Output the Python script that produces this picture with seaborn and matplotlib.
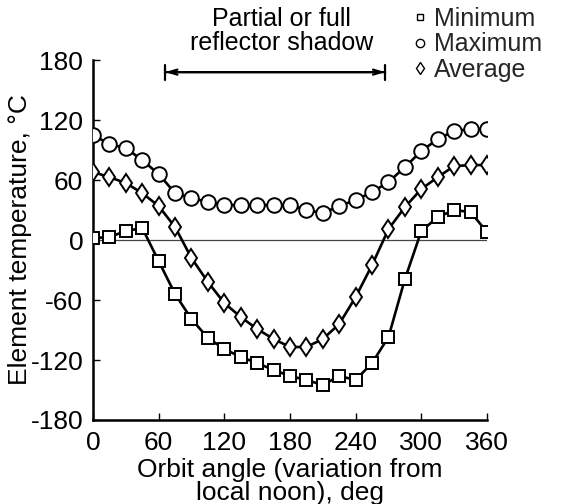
import matplotlib
matplotlib.use("Agg")
import matplotlib.pyplot as plt
from matplotlib.lines import Line2D
import seaborn as sns

# Orbit angle from local noon, deg
angle = [0, 15, 30, 45, 60, 75, 90, 105, 120, 135, 150, 165, 180,
         195, 210, 225, 240, 255, 270, 285, 300, 315, 330, 345, 360]

# Element temperatures, deg C
t_min = [2, 3, 9, 12, -21, -54, -79, -98, -109, -117, -123, -130, -136,
         -140, -145, -136, -140, -123, -97, -39, 9, 23, 30, 28, 8]
t_max = [105, 96, 92, 80, 66, 47, 42, 38, 35, 35, 35, 35, 35,
         30, 27, 34, 40, 48, 58, 73, 89, 101, 109, 111, 111]
t_avg = [68, 63, 57, 47, 34, 13, -18, -42, -63, -77, -89, -99, -107,
         -107, -99, -84, -57, -25, 11, 33, 51, 63, 74, 75, 75]

series_labels = ["Minimum", "Maximum", "Average"]
shadow_span = (66, 267)

sns.set_theme(style="ticks")
plt.rcParams["font.family"] = ["Liberation Sans", "DejaVu Sans"]
plt.rcParams["axes.unicode_minus"] = False

fig = plt.figure(figsize=(5.69, 5.04), dpi=100)
ax = fig.add_axes([0.1634, 0.1667, 0.6925, 0.714])

ax.axhline(0, color="#444444", lw=0.9, zorder=1)

common = dict(color="black", lw=1.9, markerfacecolor="white",
              markeredgecolor="black", markeredgewidth=1.4, zorder=3)
sns.lineplot(x=angle, y=t_min, marker="s", markersize=8.2, ax=ax, **common)
sns.lineplot(x=angle, y=t_max, marker="o", markersize=10.5, ax=ax, **common)
sns.lineplot(x=angle, y=t_avg, marker="d", markersize=9.5, ax=ax, **common)

ax.set_xlim(0, 360)
ax.set_ylim(-180, 180)
ax.set_xticks(range(0, 361, 60))
ax.set_yticks(range(-180, 181, 60))
ax.tick_params(direction="in", length=5, width=1, labelsize=19,
               colors="black", pad=7)
ax.tick_params(axis="x", pad=8)
for side in ("top", "right"):
    ax.spines[side].set_visible(False)
for side in ("left", "bottom"):
    ax.spines[side].set_linewidth(1.8)
    ax.spines[side].set_color("black")

ax.set_xlabel("Orbit angle (variation from\nlocal noon), deg", fontsize=19,
              linespacing=0.95, labelpad=2, color="black")
ax.set_ylabel("Element temperature, °C", fontsize=19, color="black")
ax.yaxis.set_label_coords(-0.155, 0.5)

# Shadow interval bracket
ax.annotate("", xy=(shadow_span[0], 168), xytext=(shadow_span[1], 168),
            arrowprops=dict(arrowstyle="|-|, widthA=0.45, widthB=0.45",
                            lw=1.6, color="black", shrinkA=0, shrinkB=0),
            annotation_clip=False)
ax.annotate("", xy=(shadow_span[0], 168), xytext=(shadow_span[1], 168),
            arrowprops=dict(arrowstyle="<->, head_length=0.5, head_width=0.15",
                            lw=1.6, color="black", shrinkA=0, shrinkB=0),
            annotation_clip=False)
ax.text(sum(shadow_span) / 2 + 6, 185, "Partial or full\nreflector shadow",
        ha="center", va="bottom", fontsize=18, linespacing=1.0,
        color="black")

handles = [
    Line2D([], [], ls="none", marker="s", ms=5, mfc="white", mec="black", mew=1),
    Line2D([], [], ls="none", marker="o", ms=6, mfc="white", mec="black", mew=1),
    Line2D([], [], ls="none", marker="d", ms=6, mfc="white", mec="black", mew=1),
]
ax.legend(handles, series_labels, loc="upper left",
          bbox_to_anchor=(414 / 569, 1 - 7 / 504), bbox_transform=fig.transFigure,
          frameon=False, fontsize=18, labelspacing=0.05, handlelength=0.5,
          handletextpad=0.3, borderpad=0.0, borderaxespad=0)

fig.savefig("out.png", dpi=100)
